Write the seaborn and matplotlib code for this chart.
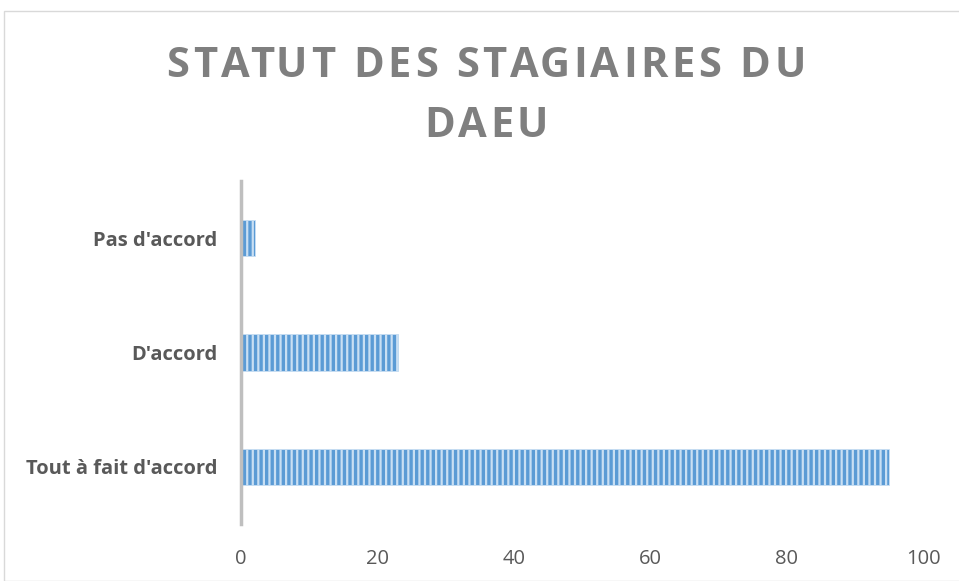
import matplotlib
matplotlib.use("Agg")
import matplotlib.pyplot as plt
import seaborn as sns
import pandas as pd
from matplotlib.patches import Rectangle

# données
categories = ["Pas d'accord", "D'accord", "Tout à fait d'accord"]
valeurs = [2, 23, 95]
xticks = [0, 20, 40, 60, 80, 100]
titre = ["STATUT DES STAGIAIRES DU", "DAEU"]

sns.set_theme(style="white")
plt.rcParams['font.family'] = ['Open Sans', 'DejaVu Sans']
plt.rcParams['hatch.linewidth'] = 1.6
plt.rcParams['hatch.color'] = '#C9DFF3'

df = pd.DataFrame({"categorie": categories, "valeur": valeurs})

fig = plt.figure(figsize=(9.59, 5.81), dpi=100)
ax = fig.add_axes([241 / 959, 57 / 581, (923 - 241) / 959, (400 - 57) / 581])

sns.barplot(data=df, y="categorie", x="valeur", order=categories,
            color="#5B9BD5", width=0.32, ax=ax, orient="h", saturation=1)
for p in ax.patches:
    p.set_hatch('|||')
    p.set_edgecolor('#C9DFF3')
    p.set_linewidth(0.6)

ax.set_xlim(0, 100)
ax.set_xticks(xticks)
ax.set_xticklabels([str(t) for t in xticks], fontsize=14.5, color='#595959')
ax.set_yticklabels(categories, fontsize=14.5, fontweight='bold', color='#595959')
ax.set_xlabel("")
ax.set_ylabel("")
ax.tick_params(axis='x', length=0, pad=18)
ax.tick_params(axis='y', length=0, pad=17)

for s in ['top', 'right', 'bottom']:
    ax.spines[s].set_visible(False)
ax.spines['left'].set_color('#BFBFBF')
ax.spines['left'].set_linewidth(2.5)

# titre avec espacement des lettres
renderer = fig.canvas.get_renderer()
kw = dict(fontsize=30, fontweight='bold', color='#7F7F7F', va='baseline', ha='left')
espace = 3.7  # px entre lettres


def largeur(s):
    t = fig.text(0, 0, s + "|", **kw)
    w = t.get_window_extent(renderer).width
    t.remove()
    t = fig.text(0, 0, "|", **kw)
    w -= t.get_window_extent(renderer).width
    t.remove()
    return w


for ligne, yb in zip(titre, [77, 137]):
    total = largeur(ligne) + espace * (len(ligne) - 1)
    x0 = 486 - total / 2
    for i, c in enumerate(ligne):
        if c == " ":
            continue
        x = x0 + largeur(ligne[:i]) + espace * i
        fig.text(x / 959, 1 - yb / 581, c, **kw)

fig.patches.append(Rectangle((4 / 959, 0), 1, 1 - 11 / 581, transform=fig.transFigure,
                             fill=False, edgecolor='#D9D9D9', linewidth=1))

fig.savefig("out.png", dpi=100)
